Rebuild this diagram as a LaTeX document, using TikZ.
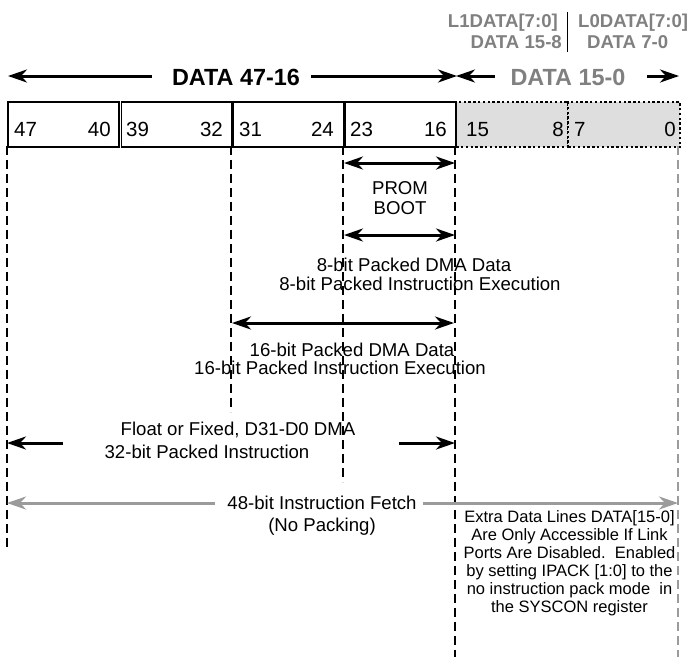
\documentclass[tikz,border=0pt]{standalone}
\usepackage{fontspec}
\setmainfont{Liberation Sans}
\usetikzlibrary{arrows.meta}
\definecolor{hdrgray}{RGB}{128,128,128}
\definecolor{fillgray}{RGB}{222,222,222}
\definecolor{argray}{RGB}{155,155,155}
\begin{document}
\begin{tikzpicture}[x=1pt,y=-1pt,
  bitbox/.style={draw, line width=1.8pt, minimum height=45pt, inner sep=0pt, anchor=north west},
  graybox/.style={fill=fillgray, draw, line width=2.4pt, dash pattern=on 2.4pt off 2.4pt, minimum height=45pt, inner sep=0pt, anchor=north west},
  numtxt/.style={font=\fontsize{20.5}{23}\selectfont, inner sep=0pt},
  lbltxt/.style={font=\fontsize{18.6}{21}\selectfont, inner sep=0pt},
  hdrtxt/.style={font=\bfseries\fontsize{23.4}{26}\selectfont, inner sep=0pt},
  subtxt/.style={font=\bfseries\fontsize{18.6}{21}\selectfont, text=hdrgray, inner sep=0pt},
  notetxt/.style={font=\fontsize{16.5}{18}\selectfont, align=center, inner sep=0pt},
  xguide/.style={line width=1.4pt, dash pattern=on 9pt off 5pt},
  tipS/.tip={Stealth[length=19pt,width=13pt,inset=6pt]},
  xarr/.style={line width=3pt, -tipS},
  xdbl/.style={line width=3pt, tipS-tipS},
  garr/.style={line width=3pt, draw=argray, -{Stealth[length=19pt,width=13pt,inset=6pt,color=argray]}}
]
\useasboundingbox (0,0) rectangle (692,657);

% gray boxes
\node[graybox, minimum width=112pt] (g1) at (455,101) {};
\node[graybox, minimum width=112pt] (g2) at (567,101) {};
% black boxes
\node[bitbox, minimum width=111pt] (b1) at (7,101) {};
\node[bitbox, minimum width=110.5pt] (b2) at (120.5,101) {};
\node[bitbox, minimum width=111pt] (b3) at (232,101) {};
\node[bitbox, minimum width=110.5pt] (b4) at (344.5,101) {};

% numbers
\node[numtxt, anchor=base west] (n47) at (14,136) {47};
\node[numtxt, anchor=base east] (n40) at (111,136) {40};
\node[numtxt, anchor=base west] (n39) at (126,136) {39};
\node[numtxt, anchor=base east] (n32) at (223,136) {32};
\node[numtxt, anchor=base west] (n31) at (239,136) {31};
\node[numtxt, anchor=base east] (n24) at (334,136) {24};
\node[numtxt, anchor=base west] (n23) at (350,136) {23};
\node[numtxt, anchor=base east] (n16) at (447,136) {16};
\node[numtxt, anchor=base west] (n15) at (466,136) {15};
\node[numtxt, anchor=base east] (n8) at (564,136) {8};
\node[numtxt, anchor=base west] (n7) at (574,136) {7};
\node[numtxt, anchor=base east] (n0) at (676,136) {0};

% header labels
\node[hdrtxt, anchor=base] (h1) at (236,85) {DATA 47-16};
\node[hdrtxt, anchor=base, text=hdrgray] (h2) at (568,85) {DATA 15-0};
\node[subtxt, anchor=base east] (s1) at (558,27) {L1DATA[7:0]};
\node[subtxt, anchor=base east] (s2) at (562,48) {DATA 15-8};
\node[subtxt, anchor=base west] (s3) at (578,27) {L0DATA[7:0]};
\node[subtxt, anchor=base west] (s4) at (587,48) {DATA 7-0};
\coordinate (sepT) at (567,12);
\coordinate (sepB) at (567,52);
\draw[line width=1pt] (sepT) -- (sepB);

% header arrows
\coordinate (hA) at (152,76); \coordinate (hAt) at (8,76);
\coordinate (hB) at (311,76); \coordinate (hBt) at (457,76);
\coordinate (hC) at (495,76); \coordinate (hCt) at (456,76);
\coordinate (hD) at (647,76); \coordinate (hDt) at (679,76);
\draw[xarr] (hA) -- (hAt);
\draw[xarr] (hB) -- (hBt);
\draw[xarr] (hC) -- (hCt);
\draw[xarr] (hD) -- (hDt);

% dashed guides
\coordinate (d1a) at (7,146);   \coordinate (d1b) at (7,550);
\coordinate (d2a) at (231,146); \coordinate (d2b) at (231,412);
\coordinate (d3a) at (343,146); \coordinate (d3b) at (343,482);
\coordinate (d4a) at (455,146); \coordinate (d4b) at (455,657);
\coordinate (d5a) at (678,146); \coordinate (d5b) at (678,657);
\draw[xguide] (d1a) -- (d1b);
\draw[xguide] (d2a) -- (d2b);
\draw[xguide] (d3a) -- (d3b);
\draw[xguide] (d4a) -- (d4b);
\draw[xguide, draw=argray] (d5a) -- (d5b);

% PROM boot
\coordinate (p1a) at (344,163); \coordinate (p1b) at (455,163);
\coordinate (p2a) at (344,235); \coordinate (p2b) at (455,235);
\draw[xdbl] (p1a) -- (p1b);
\draw[xdbl] (p2a) -- (p2b);
\node[lbltxt, align=center] (prom) at (400,198) {PROM\\[-1pt]BOOT};

% 8-bit
\node[lbltxt] (e1) at (414,265) {8-bit Packed DMA Data};
\node[lbltxt] (e2) at (420,284) {8-bit Packed Instruction Execution};

% 16-bit
\coordinate (q1a) at (232,323); \coordinate (q1b) at (454,323);
\draw[xdbl] (q1a) -- (q1b);
\node[lbltxt] (f1) at (352,350) {16-bit Packed DMA Data};
\node[lbltxt] (f2) at (340,368) {16-bit Packed Instruction Execution};

% 32-bit
\coordinate (r1) at (63,443); \coordinate (r1t) at (7,443);
\coordinate (r2) at (399,443); \coordinate (r2t) at (455,443);
\draw[xarr] (r1) -- (r1t);
\draw[xarr] (r2) -- (r2t);
\node[lbltxt] (k1) at (238,430) {Float or Fixed, D31-D0 DMA};
\node[lbltxt] (k2) at (207,452) {32-bit Packed Instruction};

% 48-bit
\node[lbltxt] (m1) at (322,503) {48-bit Instruction Fetch};
\node[lbltxt] (m2) at (322,527) {(No Packing)};
\coordinate (w1) at (215,503); \coordinate (w1t) at (7,503);
\coordinate (w2) at (423,503); \coordinate (w2t) at (678,503);
\draw[garr] (w1) -- (w1t);
\draw[garr] (w2) -- (w2t);

% note
\node[notetxt] (note) at (569.5,563) {Extra Data Lines DATA[15-0]\\Are Only Accessible If Link\\Ports Are Disabled.\ \ Enabled\\by setting IPACK [1:0] to the\\no instruction pack mode\ \ in\\the SYSCON register};
\end{tikzpicture}
\end{document}
